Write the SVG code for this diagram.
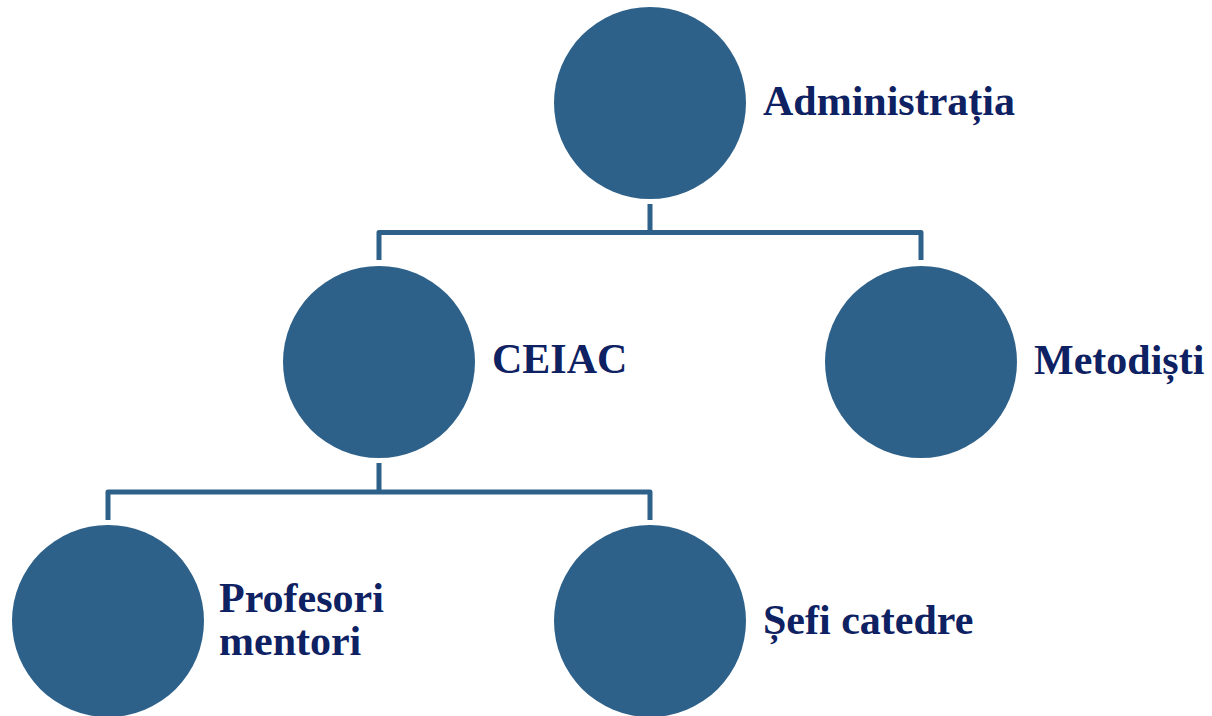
<svg xmlns="http://www.w3.org/2000/svg" width="1212" height="716" viewBox="0 0 1212 716">
<style>
.node{fill:#2E6189;}
.lbl{font-family:"Liberation Serif","Times New Roman",serif;font-weight:bold;font-size:42px;fill:#0E2162;}
.conn{fill:none;stroke:#2E6189;stroke-width:5;stroke-linejoin:round;}
</style>
<rect width="1212" height="716" fill="#ffffff"/>
<g id="connectors">
<path class="conn" d="M650,204 V232.5 M379,260 V232.5 H921 V260"/>
<path class="conn" d="M379,463 V492 M108,520 V492 H650 V520"/>
</g>
<g id="node-administratia">
<circle class="node" cx="650" cy="103" r="96"/>
<text class="lbl" x="763" y="115">Administrația</text>
</g>
<g id="node-ceiac">
<circle class="node" cx="379" cy="362" r="96"/>
<text class="lbl" x="492" y="373">CEIAC</text>
</g>
<g id="node-metodisti">
<circle class="node" cx="921" cy="362" r="96"/>
<text class="lbl" x="1034" y="374">Metodiști</text>
</g>
<g id="node-profesori">
<circle class="node" cx="108" cy="621" r="96"/>
<text class="lbl" x="219" y="612">Profesori</text>
<text class="lbl" x="219" y="655">mentori</text>
</g>
<g id="node-sefi">
<circle class="node" cx="650" cy="621" r="96"/>
<text class="lbl" x="763" y="634">Șefi catedre</text>
</g>
</svg>
